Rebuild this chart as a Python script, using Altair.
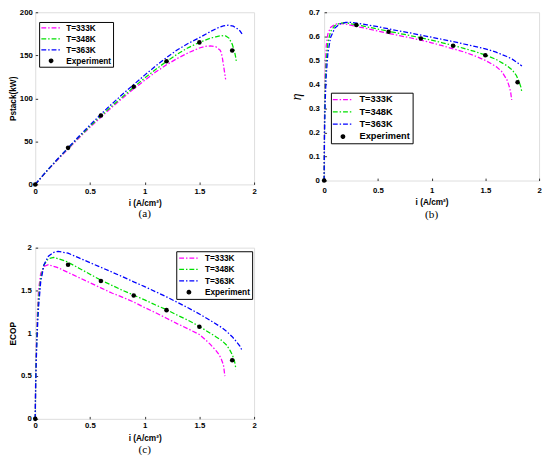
import altair as alt
import pandas as pd

SERIES = ["T=333K", "T=348K", "T=363K", "Experiment"]
COLORS = ["#FF00FF", "#00E000", "#0000FF", "#000000"]
X_TICKS = [0, 0.5, 1, 1.5, 2]
EXP_I = [0, 0.3, 0.6, 0.9, 1.2, 1.5, 1.8]

# ---------- (a) Pstack (kW) ----------
A_I_333 = [0, 0.1, 0.2, 0.3, 0.4, 0.5, 0.6, 0.7, 0.8, 0.9, 1.0, 1.1, 1.2, 1.3, 1.4, 1.5,
           1.55, 1.6, 1.65, 1.69, 1.7, 1.71, 1.72, 1.73, 1.74]
A_P_333 = [0, 14.5, 28, 41, 54, 66.5, 78, 89.5, 100.5, 111, 121, 130.5, 139, 146.5, 153, 158.5,
           160.3, 161, 160, 156, 153, 147, 139, 130.5, 122]
A_I_348 = [0, 0.1, 0.2, 0.3, 0.4, 0.5, 0.6, 0.7, 0.8, 0.9, 1.0, 1.1, 1.2, 1.3, 1.4, 1.5,
           1.6, 1.65, 1.7, 1.74, 1.77, 1.8, 1.82, 1.83, 1.84]
A_P_348 = [0, 14.8, 28.7, 42, 55, 67.5, 79.5, 91, 102, 113, 123.5, 133.5, 143, 151.5, 159, 165,
           169.8, 171.5, 172.8, 172.5, 170, 163, 155, 149, 141.5]
A_I_363 = [0, 0.1, 0.2, 0.3, 0.4, 0.5, 0.6, 0.7, 0.8, 0.9, 1.0, 1.1, 1.2, 1.3, 1.4, 1.5,
           1.6, 1.68, 1.72, 1.77, 1.81, 1.84, 1.87, 1.89]
A_P_363 = [0, 15, 29, 42.5, 56, 69, 81.5, 93.5, 105, 116, 127, 137.5, 147.5, 156.5, 164, 170.5,
           177.5, 182.5, 184.3, 185, 183.8, 181.5, 178.5, 175]
A_EXP = [0, 42.5, 80, 113.5, 143, 165, 155.5]
A_Y_TICKS = [0, 50, 100, 150, 200]

# ---------- (b) efficiency ----------
B_I_333 = [0, 0.004, 0.01, 0.02, 0.035, 0.06, 0.1, 0.15, 0.2, 0.3, 0.4, 0.5, 0.6, 0.7, 0.8, 0.9,
           1.0, 1.1, 1.2, 1.3, 1.4, 1.5, 1.6, 1.65, 1.7, 1.72, 1.735, 1.745]
B_E_333 = [0, 0.3, 0.46, 0.56, 0.61, 0.637, 0.65, 0.653, 0.651, 0.641, 0.632, 0.622, 0.612, 0.603,
           0.594, 0.584, 0.573, 0.561, 0.548, 0.535, 0.519, 0.5, 0.474, 0.455, 0.42, 0.395, 0.37, 0.335]
B_I_348 = [0, 0.004, 0.01, 0.02, 0.035, 0.06, 0.1, 0.15, 0.2, 0.3, 0.4, 0.5, 0.6, 0.7, 0.8, 0.9,
           1.0, 1.1, 1.2, 1.3, 1.4, 1.5, 1.6, 1.7, 1.75, 1.79, 1.815, 1.83, 1.84]
B_E_348 = [0, 0.25, 0.4, 0.5, 0.575, 0.62, 0.645, 0.655, 0.656, 0.648, 0.639, 0.63, 0.621, 0.612,
           0.603, 0.594, 0.584, 0.573, 0.562, 0.55, 0.537, 0.522, 0.504, 0.478, 0.46, 0.436, 0.41,
           0.39, 0.368]
B_I_363 = [0, 0.004, 0.01, 0.02, 0.035, 0.06, 0.1, 0.15, 0.2, 0.25, 0.3, 0.4, 0.5, 0.6, 0.7, 0.8,
           0.9, 1.0, 1.1, 1.2, 1.3, 1.4, 1.5, 1.6, 1.7, 1.75, 1.8, 1.84]
B_E_363 = [0, 0.2, 0.33, 0.44, 0.53, 0.595, 0.635, 0.652, 0.658, 0.658, 0.655, 0.648, 0.64, 0.631,
           0.622, 0.614, 0.605, 0.596, 0.587, 0.578, 0.568, 0.558, 0.548, 0.534, 0.516, 0.505, 0.49,
           0.476]
B_EXP = [0, 0.647, 0.619, 0.591, 0.561, 0.521, 0.409]
B_Y_TICKS = [0, 0.1, 0.2, 0.3, 0.4, 0.5, 0.6, 0.7]

# ---------- (c) ECOP ----------
C_I_333 = [0, 0.004, 0.01, 0.02, 0.03, 0.05, 0.08, 0.12, 0.2, 0.3, 0.4, 0.5, 0.6, 0.7, 0.8, 0.9,
           1.0, 1.1, 1.2, 1.3, 1.4, 1.5, 1.55, 1.6, 1.65, 1.68, 1.7, 1.72, 1.733]
C_E_333 = [0, 0.5, 0.85, 1.25, 1.5, 1.7, 1.78, 1.8, 1.77, 1.71, 1.65, 1.59, 1.53, 1.47, 1.42, 1.365,
           1.3, 1.24, 1.175, 1.11, 1.05, 0.985, 0.93, 0.87, 0.8, 0.75, 0.7, 0.63, 0.5]
C_I_348 = [0, 0.004, 0.01, 0.02, 0.03, 0.05, 0.08, 0.12, 0.17, 0.25, 0.3, 0.4, 0.5, 0.6, 0.7, 0.8,
           0.9, 1.0, 1.1, 1.2, 1.3, 1.4, 1.5, 1.6, 1.65, 1.7, 1.75, 1.78, 1.8, 1.815, 1.825, 1.834]
C_E_348 = [0, 0.45, 0.78, 1.15, 1.4, 1.65, 1.8, 1.87, 1.886, 1.855, 1.83, 1.76, 1.69, 1.62, 1.56,
           1.5, 1.445, 1.39, 1.33, 1.275, 1.21, 1.15, 1.08, 1.0, 0.96, 0.92, 0.86, 0.8, 0.75, 0.7,
           0.65, 0.58]
C_I_363 = [0, 0.004, 0.01, 0.02, 0.03, 0.05, 0.08, 0.12, 0.17, 0.21, 0.3, 0.4, 0.5, 0.6, 0.7, 0.8,
           0.9, 1.0, 1.1, 1.2, 1.3, 1.4, 1.5, 1.6, 1.7, 1.75, 1.8, 1.84, 1.87, 1.89]
C_E_363 = [0, 0.4, 0.7, 1.05, 1.3, 1.6, 1.8, 1.9, 1.945, 1.957, 1.935, 1.88, 1.825, 1.77, 1.715,
           1.66, 1.6, 1.545, 1.485, 1.425, 1.36, 1.295, 1.225, 1.15, 1.07, 1.02, 0.96, 0.9, 0.85, 0.8]
C_EXP = [0, 1.8, 1.61, 1.44, 1.27, 1.075, 0.685]
C_Y_TICKS = [0, 0.5, 1, 1.5, 2]

DASH = [5, 2, 1.5, 2]
FONT = "Liberation Sans"


def lines_frame(xs_list, ys_list):
    rows = []
    for name, xs, ys in zip(SERIES[:3], xs_list, ys_list):
        for x, y in zip(xs, ys):
            rows.append({"i": x, "v": y, "series": name})
    return pd.DataFrame(rows)


def exp_frame(ys):
    return pd.DataFrame({"i": EXP_I, "v": ys, "series": ["Experiment"] * len(ys)})


def panel(ldf, edf, W, H, ydom, yticks, ytitle, ytfont, ytsize, ytstyle, ytweight,
          ylabpad, ytitlepad, xlabpad, xtitlepad, lx, ly, lpad, lrow, lfs, lso, llo,
          half, caption, capoff):
    xs = alt.Scale(domain=[0, 2], nice=False)
    ys = alt.Scale(domain=ydom, nice=False)
    x_main = alt.Axis(values=X_TICKS, format="~r", title="i (A/cm²)", labelFlush=False,
                      ticks=False, tickSize=0, domain=False, grid=False, orient="bottom",
                      labelPadding=xlabpad, titlePadding=xtitlepad, titleFont=FONT,
                      titleFontSize=8.5, titleFontWeight="bold", labelFont=FONT,
                      labelFontSize=8, labelFontWeight="bold", labelColor="black",
                      titleColor="black", minExtent=0)
    y_main = alt.Axis(values=yticks, format="~r", title=ytitle, labelFlush=False,
                      ticks=False, tickSize=0, domain=False, grid=False, orient="left",
                      labelPadding=ylabpad, titlePadding=ytitlepad, titleFont=ytfont,
                      titleFontSize=ytsize, titleFontStyle=ytstyle, titleFontWeight=ytweight,
                      labelFont=FONT, labelFontSize=8, labelFontWeight="bold",
                      labelColor="black", titleColor="black", minExtent=0)
    x_tick = alt.Axis(values=X_TICKS, orient="top", offset=-H, labels=False, domain=False,
                      grid=False, tickSize=2.5, tickColor="black", tickWidth=0.8, title=None,
                      minExtent=0, maxExtent=0)
    y_tick = alt.Axis(values=yticks, orient="right", offset=-W, labels=False, domain=False,
                      grid=False, tickSize=2.5, tickColor="black", tickWidth=0.8, title=None,
                      minExtent=0, maxExtent=0)

    lines = alt.Chart(ldf).mark_line(strokeWidth=1.3, strokeDash=DASH).encode(
        x=alt.X("i:Q", scale=xs, axis=x_main),
        y=alt.Y("v:Q", scale=ys, axis=y_main),
        color=alt.Color("series:N", scale=alt.Scale(domain=SERIES[:3], range=COLORS[:3]),
                        legend=None),
    )
    pts = alt.Chart(edf).mark_circle(size=22, color="black", opacity=1).encode(
        x=alt.X("i:Q", scale=xs, axis=x_tick),
        y=alt.Y("v:Q", scale=ys, axis=y_tick),
    )
    leg = alt.Legend(title=None, orient="none", legendX=lx, legendY=ly, padding=lpad,
                     rowPadding=lrow, strokeColor="black", fillColor="white", labelFont=FONT,
                     labelFontSize=lfs, labelFontWeight="bold", labelColor="black",
                     symbolSize=64, symbolStrokeWidth=1.3, symbolOffset=lso, labelOffset=llo,
                     symbolOpacity=1, cornerRadius=0)
    line_path = "M-%s,0H%s" % (half, half)
    dot_path = "M-0.45,0A0.45,0.45,0,1,0,0.45,0A0.45,0.45,0,1,0,-0.45,0Z"
    legl = alt.Chart(edf).mark_point(opacity=1).transform_filter("false").encode(
        stroke=alt.Stroke("series:N", scale=alt.Scale(domain=SERIES, range=COLORS), legend=leg),
        fill=alt.Fill("series:N", scale=alt.Scale(domain=SERIES,
                      range=["transparent", "transparent", "transparent", "black"]), legend=leg),
        shape=alt.Shape("series:N", scale=alt.Scale(domain=SERIES,
                        range=[line_path, line_path, line_path, dot_path]), legend=leg),
        strokeDash=alt.StrokeDash("series:N", scale=alt.Scale(domain=SERIES,
                                  range=[DASH, DASH, DASH, [1, 0]]), legend=leg),
    )
    return alt.layer(lines, pts, legl).resolve_axis(x="independent", y="independent").properties(
        width=W, height=H,
        title=alt.Title(caption, orient="bottom", font="Liberation Serif", fontSize=11.5,
                        fontWeight="normal", anchor="middle", frame="group", offset=capoff,
                        color="black"),
    )


pa = panel(lines_frame([A_I_333, A_I_348, A_I_363], [A_P_333, A_P_348, A_P_363]),
           exp_frame(A_EXP), 225, 177, [0, 200], A_Y_TICKS, "Pstack(kW)", FONT, 8.5,
           "normal", "bold", 3, 2, 3, 4, 4, 10, 1, 1.3, 8.5, 6.3, 10.5, 2.5, "(a)", 1)
pb = panel(lines_frame([B_I_333, B_I_348, B_I_363], [B_E_333, B_E_348, B_E_363]),
           exp_frame(B_EXP), 221, 173, [0, 0.7], B_Y_TICKS, "η", "Liberation Serif", 14,
           "italic", "normal", 5, 5, 6, 4, 7, 82.7, 2, 2.7, 9.5, 5.35, 12, 2.6, "(b)", 3)
pc = panel(lines_frame([C_I_333, C_I_348, C_I_363], [C_E_333, C_E_348, C_E_363]),
           exp_frame(C_EXP), 225, 176, [0, 2], C_Y_TICKS, "ECOP", FONT, 8.5,
           "normal", "bold", 4, 3, 3, 4, 145, 3.7, 2, 1.7, 8.5, 6, 11.5, 2.5, "(c)", 3)

chart = alt.concat(pa, pb, pc, columns=2, spacing=alt.RowColnumber(row=22, column=33),
                   align="each").resolve_scale(
    color="independent", stroke="independent", fill="independent",
    shape="independent", strokeDash="independent"
).resolve_legend(
    color="independent", stroke="independent", fill="independent",
    shape="independent", strokeDash="independent"
).properties(padding={"top": -7, "left": 0, "right": 0, "bottom": 0}).configure_view(
    stroke="black", strokeWidth=0.9
).configure(background="white")

chart.save("out.html", embed_options={"renderer": "svg", "actions": False})
